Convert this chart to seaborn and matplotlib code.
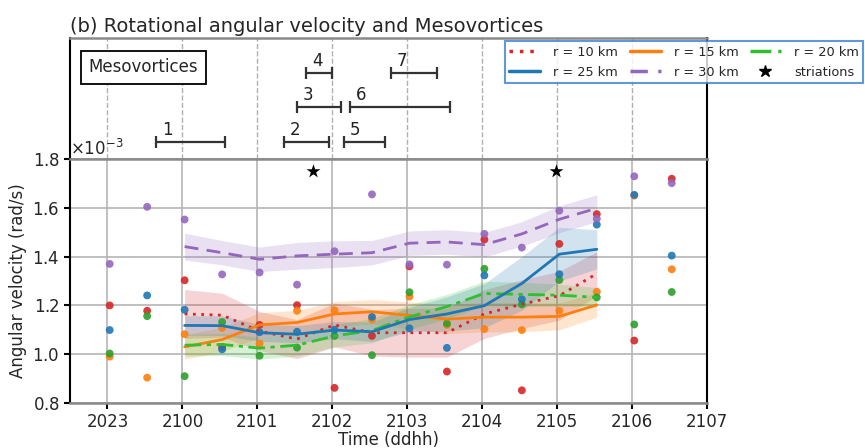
import numpy as np
import pandas as pd
import matplotlib
matplotlib.use("Agg")
import matplotlib.pyplot as plt
from matplotlib.lines import Line2D
import seaborn as sns

# ── data ──────────────────────────────────────────────────────────────────────
TICK_HOURS = [0, 1, 2, 3, 4, 5, 6, 7, 8]
TICK_LABELS = ["2023", "2100", "2101", "2102", "2103", "2104", "2105", "2106", "2107"]

# observation times, hours after 20 Z23
obs_hours = [0.03, 0.53, 1.03, 1.53, 2.03, 2.53, 3.03, 3.53,
             4.03, 4.53, 5.03, 5.53, 6.03, 6.53, 7.03, 7.53]

# angular velocity samples (x 1e-3 rad/s)
obs_r10 = [1.20, 1.178, 1.303, 1.03, 1.12, 1.201, 0.862, 1.075,
           1.36, 0.929, 1.47, 0.852, 1.452, 1.574, 1.056, 1.719]
obs_r15 = [0.99, 0.904, 1.082, 1.108, 1.044, 1.178, 1.18, 1.142,
           1.236, 1.12, 1.103, 1.099, 1.178, 1.256, 1.65, 1.348]
obs_r20 = [1.003, 1.156, 0.910, 1.132, 0.994, 1.027, 1.075, 0.996,
           1.254, 1.126, 1.350, 1.204, 1.304, 1.233, 1.122, 1.255]
obs_r25 = [1.099, 1.241, 1.182, 1.02, 1.09, 1.092, 1.10, 1.153,
           1.106, 1.026, 1.323, 1.225, 1.328, 1.531, 1.653, 1.404]
obs_r30 = [1.370, 1.604, 1.552, 1.327, 1.335, 1.285, 1.422, 1.655,
           1.368, 1.367, 1.493, 1.437, 1.588, 1.555, 1.729, 1.701]

# smoothed curves (2100 .. 2105:30) and their spread
mean_hours = [1.03, 1.53, 2.03, 2.53, 3.03, 3.53, 4.03, 4.53, 5.03, 5.53, 6.03, 6.53]
mean_r10 = [1.165, 1.16, 1.095, 1.062, 1.12, 1.088, 1.088, 1.088, 1.165, 1.205, 1.24, 1.33]
mean_r15 = [1.03, 1.06, 1.12, 1.13, 1.165, 1.174, 1.159, 1.144, 1.152, 1.152, 1.155, 1.202]
mean_r20 = [1.037, 1.04, 1.025, 1.037, 1.075, 1.097, 1.153, 1.195, 1.249, 1.245, 1.242, 1.233]
mean_r25 = [1.118, 1.117, 1.088, 1.082, 1.099, 1.092, 1.142, 1.165, 1.199, 1.29, 1.41, 1.43]
mean_r30 = [1.441, 1.416, 1.389, 1.403, 1.41, 1.416, 1.455, 1.46, 1.449, 1.493, 1.553, 1.598]
spread_r10 = [0.10, 0.09, 0.08, 0.08, 0.09, 0.095, 0.10, 0.10, 0.10, 0.10, 0.10, 0.09]
spread_r15 = [0.05, 0.05, 0.05, 0.05, 0.05, 0.05, 0.055, 0.06, 0.06, 0.06, 0.055, 0.05]
spread_r20 = [0.045, 0.045, 0.045, 0.045, 0.045, 0.05, 0.05, 0.05, 0.05, 0.05, 0.045, 0.04]
spread_r25 = [0.04, 0.04, 0.035, 0.035, 0.035, 0.04, 0.05, 0.07, 0.09, 0.11, 0.11, 0.08]
spread_r30 = [0.055, 0.05, 0.05, 0.055, 0.055, 0.05, 0.05, 0.05, 0.05, 0.05, 0.055, 0.055]

striation_hours = [2.74, 5.99]
striation_vals = [1.75, 1.75]

# mesovortex lifetimes
mv_labels = ["1", "2", "3", "4", "5", "6", "7"]
mv_start = [0.65, 2.36, 2.53, 2.65, 3.16, 3.24, 3.78]
mv_end = [1.57, 2.95, 3.12, 2.99, 3.70, 4.57, 4.40]
mv_level = [1, 1, 2, 3, 1, 2, 3]

RADII = ["r = 10 km", "r = 15 km", "r = 20 km", "r = 25 km", "r = 30 km"]
OBS = [obs_r10, obs_r15, obs_r20, obs_r25, obs_r30]
MEANS = [mean_r10, mean_r15, mean_r20, mean_r25, mean_r30]
SPREADS = [spread_r10, spread_r15, spread_r20, spread_r25, spread_r30]

DOT_COLORS = ["#d62728", "#ff7f0e", "#2ca02c", "#1f77b4", "#9467bd"]
LINE_COLORS = ["#d62728", "#ff7f0e", "#2fbf2f", "#1f77b4", "#9467bd"]
LINE_STYLES = [(0, (1, 2)), "-", (0, (6, 2, 1.5, 2)), "-", (0, (5, 3))]

SCALE = 1e-3

# ── figure ────────────────────────────────────────────────────────────────────
sns.set_style("white")
plt.rcParams["font.family"] = ["DejaVu Sans"]

fig = plt.figure(figsize=(8.65, 4.48), dpi=100)
ax_mv = fig.add_axes([0.0809, 0.6451, 0.7364, 0.2701])
ax = fig.add_axes([0.0809, 0.1004, 0.7364, 0.5447])

# lower panel: samples, smoothed curves and spread
obs_df = pd.DataFrame({
    "hour": np.tile(obs_hours, len(RADII)),
    "omega": np.concatenate(OBS) * SCALE,
    "radius": np.repeat(RADII, len(obs_hours)),
})
sns.scatterplot(data=obs_df, x="hour", y="omega", hue="radius", palette=DOT_COLORS,
                s=32, linewidth=0, alpha=0.9, legend=False, ax=ax, zorder=3)

handles = []
for name, mean, spread, lc, ls in zip(RADII, MEANS, SPREADS, LINE_COLORS, LINE_STYLES):
    mean = np.array(mean) * SCALE
    spread = np.array(spread) * SCALE
    ax.fill_between(mean_hours, mean - spread, mean + spread, color=lc, alpha=0.2, lw=0, zorder=2)
    sns.lineplot(x=mean_hours, y=mean, ax=ax, color=lc, lw=2, zorder=4)
    ax.lines[-1].set_linestyle(ls)
    handles.append(Line2D([], [], color=lc, lw=2.5, linestyle=ls, label=name))

sns.scatterplot(x=striation_hours, y=np.array(striation_vals) * SCALE, marker="*",
                color="black", s=110, linewidth=0, ax=ax, zorder=5)
handles.append(Line2D([], [], color="black", marker="*", markersize=9, lw=0, label="striations"))

ax.set_xlim(-0.5, 8)
ax.set_ylim(0.8 * SCALE, 1.8 * SCALE)
ax.set_yticks(np.array([0.8, 1.0, 1.2, 1.4, 1.6, 1.8]) * SCALE)
ax.ticklabel_format(axis="y", style="sci", scilimits=(0, 0), useMathText=True)
ax.set_xticks(TICK_HOURS)
ax.set_xticklabels(TICK_LABELS)
ax.grid(True, color="#b5b5b5", lw=1.2)
ax.tick_params(axis="both", labelsize=12, direction="out", length=4, width=1.5,
               bottom=True, left=True, color="black")
ax.yaxis.get_offset_text().set_fontsize(12)
ax.set_xlabel("Time (ddhh)", fontsize=12, labelpad=0)
ax.set_ylabel("Angular velocity (rad/s)", fontsize=12)
for side in ["left", "right"]:
    ax.spines[side].set_color("black")
    ax.spines[side].set_linewidth(1.5)
for side in ["top", "bottom"]:
    ax.spines[side].set_color("#8a8a8a")
    ax.spines[side].set_linewidth(1.8)

# upper panel: mesovortex lifetimes
mid = [(a + b) / 2 for a, b in zip(mv_start, mv_end)]
half = [(b - a) / 2 for a, b in zip(mv_start, mv_end)]
ax_mv.errorbar(mid, mv_level, xerr=half, fmt="none", ecolor="#333333",
               elinewidth=1.6, capsize=4, capthick=1.6)
for lab, x0, lv in zip(mv_labels, mv_start, mv_level):
    ax_mv.annotate(lab, (x0, lv), xytext=(8, 2), textcoords="offset points",
                   ha="center", va="bottom", fontsize=12, color="#222222")
ax_mv.text(0.115, 0.76, "Mesovortices", transform=ax_mv.transAxes, ha="center", va="center",
           fontsize=12, bbox=dict(boxstyle="square,pad=0.45", fc="white", ec="black", lw=1.3))
ax_mv.set_xlim(-0.5, 8)
ax_mv.set_ylim(0.5, 4.0)
ax_mv.set_xticks(TICK_HOURS)
ax_mv.set_yticks([])
ax_mv.tick_params(axis="x", length=0, labelbottom=False)
ax_mv.grid(True, axis="x", color="#b0b0b0", linestyle="--", lw=1)
for side in ["left", "right"]:
    ax_mv.spines[side].set_color("black")
    ax_mv.spines[side].set_linewidth(1.5)
for side in ["top", "bottom"]:
    ax_mv.spines[side].set_color("#8a8a8a")
    ax_mv.spines[side].set_linewidth(1.8)
ax_mv.set_title("(b) Rotational angular velocity and Mesovortices", loc="left",
                fontsize=14, pad=4)

order = [0, 3, 1, 4, 2, 5]
leg = fig.legend([handles[i] for i in order], [handles[i].get_label() for i in order],
                 ncol=3, loc="upper right", bbox_to_anchor=(0.998, 0.908),
                 bbox_transform=fig.transFigure, borderaxespad=0, fontsize=9.3,
                 frameon=True, fancybox=False, edgecolor="#3a7fcf", handlelength=2.4,
                 columnspacing=0.9, borderpad=0.35, labelspacing=0.55, handletextpad=1.0)
leg.get_frame().set_linewidth(1.5)

fig.savefig("out.png", dpi=100)
plt.close(fig)
